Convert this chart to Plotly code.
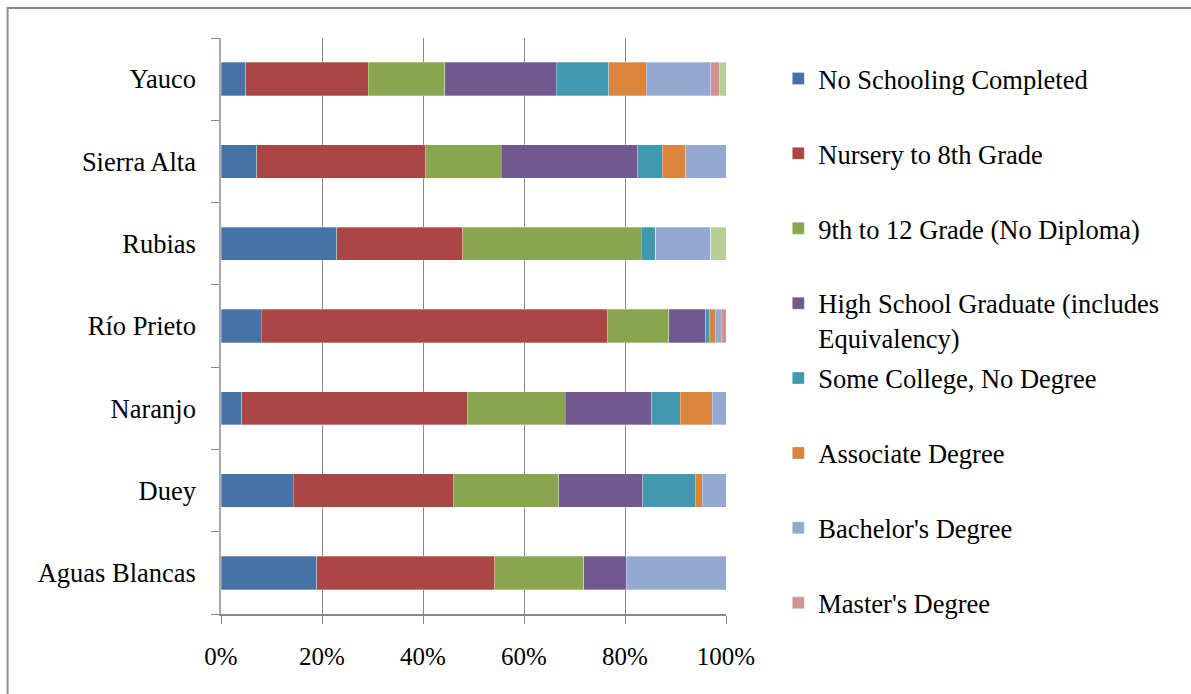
import plotly.graph_objects as go

# Communities (listed bottom to top on the category axis)
communities = ["Aguas Blancas", "Duey", "Naranjo", "Río Prieto", "Rubias", "Sierra Alta", "Yauco"]

# Share of population by educational attainment (%)
no_schooling = [19.0, 14.3, 4.1, 8.0, 22.9, 7.1, 4.9]
nursery_8th = [35.2, 31.7, 44.7, 68.5, 25.0, 33.4, 24.3]
grade_9_12 = [17.6, 20.9, 19.4, 12.2, 35.3, 15.0, 15.1]
high_school = [8.4, 16.6, 17.1, 7.3, 0.0, 27.0, 22.1]
some_college = [0.0, 10.4, 5.6, 0.7, 2.9, 4.9, 10.4]
associate = [0.0, 1.4, 6.4, 1.2, 0.0, 4.6, 7.4]
bachelor = [19.8, 4.7, 2.7, 1.2, 10.9, 8.0, 12.8]
master = [0.0, 0.0, 0.0, 0.9, 0.0, 0.0, 1.7]
professional = [0.0, 0.0, 0.0, 0.0, 3.0, 0.0, 1.3]

x_ticks = [0, 20, 40, 60, 80, 100]
x_tick_labels = ["0%", "20%", "40%", "60%", "80%", "100%"]

PAD = "<br>\u00a0"  # keeps every legend entry two lines tall for even spacing
series = [
    ("No Schooling Completed" + PAD, no_schooling, "#4572A7", True),
    ("Nursery to 8th Grade" + PAD, nursery_8th, "#AA4643", True),
    ("9th to 12 Grade (No Diploma)" + PAD, grade_9_12, "#89A54E", True),
    ("High School Graduate (includes<br>Equivalency)", high_school, "#71588F", True),
    ("Some College, No Degree" + PAD, some_college, "#4198AF", True),
    ("Associate Degree" + PAD, associate, "#DB843D", True),
    ("Bachelor's Degree" + PAD, bachelor, "#93A9CF", True),
    ("Master's Degree" + PAD, master, "#D19392", True),
    ("Professional School Degree" + PAD, professional, "#B9CD96", False),
]

FONT = "Liberation Serif, Times New Roman, serif"
GRID = "#888888"

fig = go.Figure()
for i, (name, vals, color, show) in enumerate(series):
    fig.add_trace(go.Bar(
        y=communities, x=vals, name=name, orientation="h",
        marker=dict(color=color, line=dict(color="rgba(255,255,255,0.5)", width=0.6)),
        showlegend=show, legendgroup=f"g{i}", hoverinfo="skip",
    ))

W, H = 1191, 694
L, R, T, B = 220.7, 725.7, 38.3, 614.3
pw, ph = R - L, B - T

fig.update_layout(
    width=W, height=H,
    margin=dict(l=L, r=W - R, t=T, b=H - B, pad=0),
    barmode="stack", bargap=0.595,
    plot_bgcolor="white", paper_bgcolor="white",
    font=dict(family=FONT, size=26.5, color="black"),
    legend=dict(
        x=(778 - L) / pw, xanchor="left",
        y=(B - 55) / ph, yanchor="top",
        font=dict(family=FONT, size=26.5, color="black"),
        valign="top", tracegroupgap=3, traceorder="grouped",
        bgcolor="rgba(0,0,0,0)", maxheight=900,
    ),
    xaxis=dict(
        range=[0, 100], tickvals=x_ticks, ticktext=x_tick_labels,
        showgrid=True, gridcolor=GRID, gridwidth=1.3, zeroline=False,
        showline=True, linecolor=GRID, linewidth=2,
        ticks="outside", ticklen=8, tickcolor=GRID, tickwidth=1.3,
        tickfont=dict(family=FONT, size=25, color="black"),
        ticklabelstandoff=11,
    ),
    yaxis=dict(
        range=[-0.5, 6.5], showgrid=False, zeroline=False,
        showline=True, linecolor="#aaaaaa", linewidth=1.5,
        ticks="outside", ticklen=8, tickcolor=GRID, tickwidth=1.3,
        tickson="boundaries",
        tickfont=dict(family=FONT, size=26.5, color="black"),
        ticklabelstandoff=18,
    ),
    shapes=[dict(
        type="rect", xref="paper", yref="paper",
        x0=(7.3 - L) / pw, x1=(W + 20 - L) / pw,
        y0=(B - (H + 20)) / ph, y1=(B - 8.3) / ph,
        line=dict(color="#8c8c8c", width=2), layer="below",
    )],
)

fig.write_html("out.html")
